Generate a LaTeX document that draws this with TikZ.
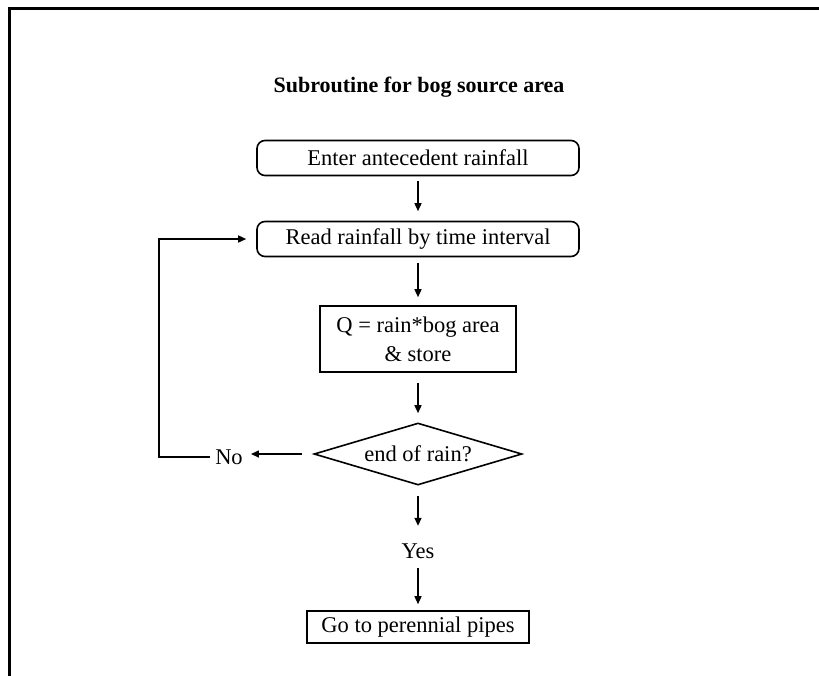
\documentclass[tikz,border=0pt]{standalone}
\usepackage{fontspec}
\setmainfont{Liberation Serif}
\usetikzlibrary{shapes.geometric,arrows.meta}
\begin{document}
\begin{tikzpicture}[x=1pt,y=-1pt,
  every node/.style={font=\fontsize{22.5}{29}\selectfont},
  rbox/.style={draw, rounded corners=8pt, minimum width=322pt, minimum height=35pt, inner sep=0pt, line width=1.6pt},
  sbox/.style={draw, inner sep=0pt, line width=1.6pt, align=center},
  dia/.style={draw, diamond, aspect=3.35, minimum width=208pt, minimum height=62pt, inner sep=0pt, line width=1.6pt},
  txt/.style={inner sep=0pt},
  arr/.style={line width=1.4pt, -{Triangle[length=8pt,width=7pt]}}]
\useasboundingbox (0,0) rectangle (819,675);
\draw[line width=3pt] (9,676) -- (9,8) -- (820,8);
\node[txt, font=\bfseries\fontsize{22}{26}\selectfont] (title) at (419,87) {Subroutine for bog source area};
\node[rbox] (enter) at (418,158) {Enter antecedent rainfall};
\node[rbox] (read) at (418,239) {Read rainfall by time interval};
\node[sbox, minimum width=196pt, minimum height=66pt] (calc) at (418,339) {Q = rain*bog area\\ \& store};
\node[dia] (end) at (418,454) {end of rain?};
\node[txt] (no) at (229,457) {No};
\node[txt] (yes) at (418,551) {Yes};
\node[sbox, minimum width=222pt, minimum height=32pt] (go) at (418,627) {Go to perennial pipes};
\coordinate (loop) at (159,457);
\draw[arr, shorten <=4.5pt, shorten >=9.5pt] (enter) -- (read);
\draw[arr, shorten <=5.5pt, shorten >=8pt] (read) -- (calc);
\draw[arr, shorten <=10pt, shorten >=9pt] (calc) -- (end);
\draw[arr, shorten <=10pt, shorten >=17.5pt] (end) -- (yes);
\draw[arr, shorten <=9.5pt, shorten >=6pt] (yes) -- (go);
\draw[arr, shorten <=11pt, shorten >=8pt] (end.west) -- (end.west -| no.east);
\draw[arr, shorten <=5pt, shorten >=10pt] (no.west) -- (loop) |- (read.west);
\end{tikzpicture}
\end{document}
